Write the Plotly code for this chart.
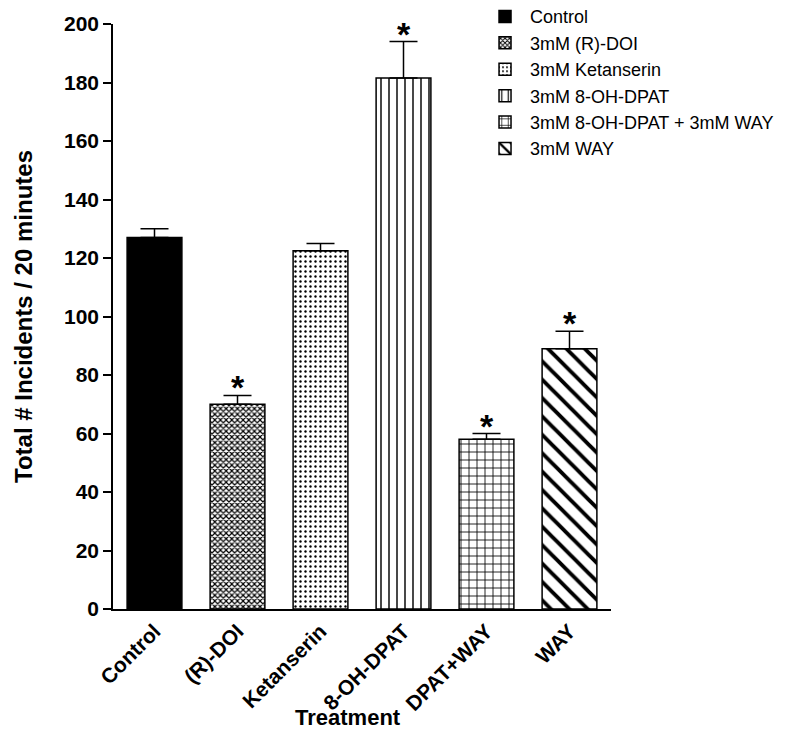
import plotly.graph_objects as go

categories = ["Control", "(R)-DOI", "Ketanserin", "8-OH-DPAT", "DPAT+WAY", "WAY"]
legend_names = ["Control", "3mM (R)-DOI", "3mM Ketanserin", "3mM 8-OH-DPAT",
                "3mM 8-OH-DPAT + 3mM WAY", "3mM WAY"]
means = [127, 70, 122.5, 181.5, 58, 89]
sem = [3, 3, 2.5, 12.5, 2, 6]
significant = [False, True, False, True, True, True]

patterns = [
    dict(shape="", fillmode="overlay"),
    dict(shape="x", size=4, solidity=0.5, fgcolor="black", bgcolor="white", fillmode="replace"),
    dict(shape=".", size=5, solidity=0.18, fgcolor="black", bgcolor="white", fillmode="replace"),
    dict(shape="|", size=8, solidity=0.18, fgcolor="black", bgcolor="white", fillmode="replace"),
    dict(shape="+", size=8, solidity=0.2, fgcolor="black", bgcolor="white", fillmode="replace"),
    dict(shape="\\", size=13, solidity=0.3, fgcolor="black", bgcolor="white", fillmode="replace"),
]
colors = ["black", "white", "white", "white", "white", "white"]

fig = go.Figure()
for i, cat in enumerate(categories):
    fig.add_trace(go.Bar(
        x=[cat], y=[means[i]], name=legend_names[i],
        width=0.66,
        marker=dict(color=colors[i], line=dict(color="black", width=1.5),
                    pattern=patterns[i]),
        error_y=dict(type="data", symmetric=False, array=[sem[i]], arrayminus=[0],
                     color="black", thickness=1.5, width=14),
    ))

for i, cat in enumerate(categories):
    if significant[i]:
        fig.add_annotation(x=cat, y=means[i] + sem[i], text="<b>*</b>", showarrow=False,
                           yanchor="bottom", yshift=-13,
                           font=dict(size=34, color="black", family="Liberation Sans"))

fig.add_annotation(x=0.472, y=-0.186, xref="paper", yref="paper", text="<b>Treatment</b>",
                   showarrow=False, xanchor="center", yanchor="middle",
                   font=dict(size=22, color="black", family="Liberation Sans"))

fig.update_layout(
    width=800, height=735,
    margin=dict(l=105, r=197, t=16, b=134, autoexpand=False),
    plot_bgcolor="white", paper_bgcolor="white",
    barmode="overlay",
    font=dict(family="Liberation Sans", color="black"),
    legend=dict(x=0.737, y=1.044, xanchor="left", yanchor="top",
                font=dict(size=18, family="Liberation Sans"),
                bgcolor="rgba(0,0,0,0)", tracegroupgap=0, itemwidth=40),
    showlegend=True,
)
fig.update_yaxes(range=[0, 200], tickvals=list(range(0, 201, 20)),
                 showline=True, linecolor="black", linewidth=1.5,
                 ticks="outside", ticklen=8, tickwidth=1.5, tickcolor="black",
                 showgrid=False, zeroline=False, automargin=False,
                 tickfont=dict(size=21, family="Liberation Sans", weight="bold"),
                 title=dict(text="<b>Total # Incidents / 20 minutes</b>",
                            font=dict(size=24), standoff=25))
fig.update_xaxes(range=[-0.5, 5.5], showline=True, linecolor="black", linewidth=1.5,
                 ticks="", tickangle=-45, showgrid=False, automargin=False,
                 categoryorder="array", categoryarray=categories,
                 tickfont=dict(size=21, family="Liberation Sans", weight="bold"))

fig.write_html("out.html")
